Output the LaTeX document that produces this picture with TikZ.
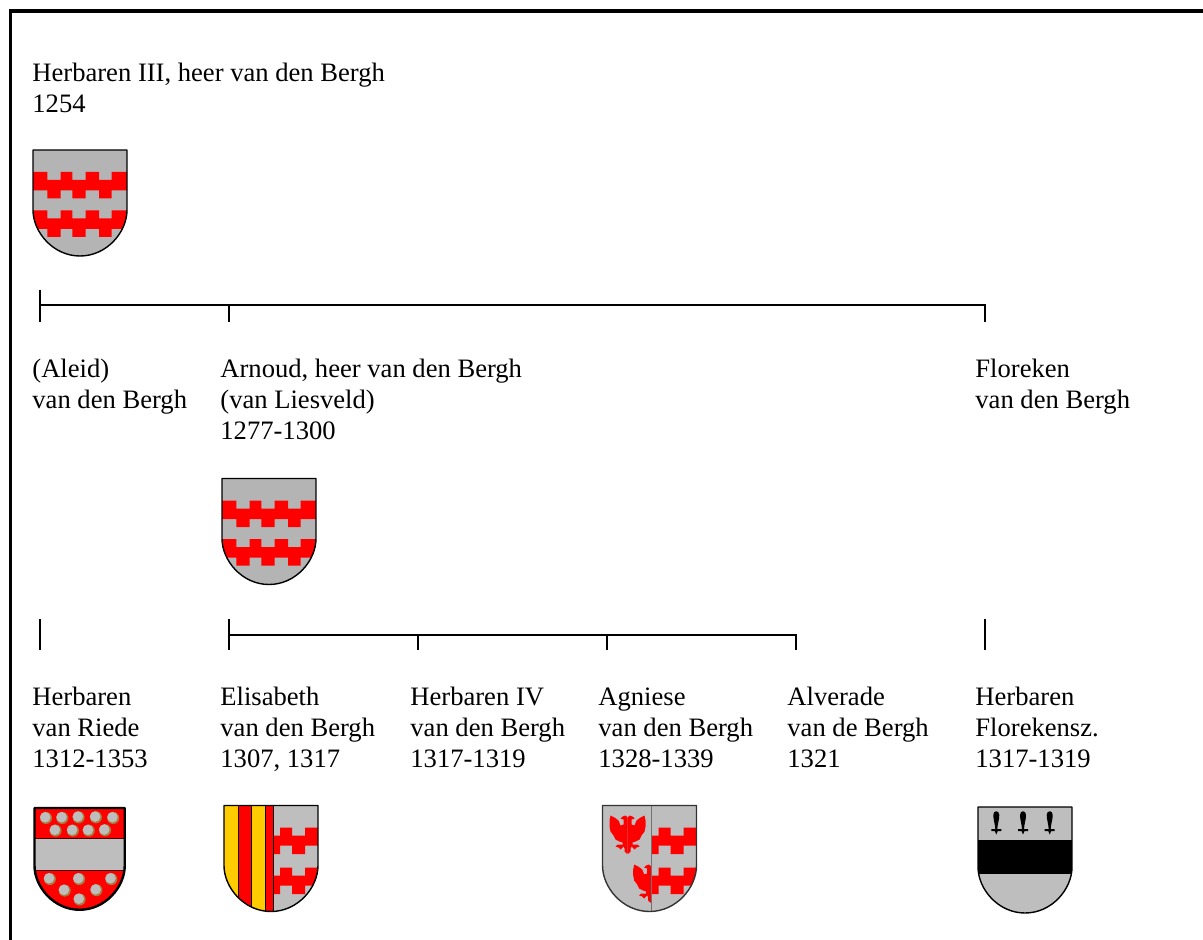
\documentclass[tikz,border=0pt]{standalone}
\usepackage{fontspec}
\setmainfont{Liberation Serif}
\definecolor{argent}{HTML}{BEBEBE}
\definecolor{bergsilver}{HTML}{B4B4B4}
\definecolor{gules}{HTML}{FF0000}
\definecolor{ore}{HTML}{FFCC00}
\definecolor{rust}{HTML}{A87B3E}
\newcommand{\shieldoutline}{(0,0) -- (94,0) -- (94,60) .. controls (94,82) and (74,106) .. (47,106) .. controls (20,106) and (0,82) .. (0,60) -- cycle}
\newcommand{\halfeagle}{(0,2) -- (2,0) -- (5,1) -- (7,3) -- (4,4) -- (4,9) -- (7,10) -- (9,5) -- (13,2) -- (17,0) -- (18,5) -- (18,11) -- (17,16) -- (14,20) -- (12,24) -- (8,26) -- (5,27) -- (5,29) -- (10,29) -- (12,31) -- (9,32) -- (7,34) -- (4,31) -- (3,33) -- (3,36) -- (1,38) -- (0,38) -- cycle}
\tikzset{
        person/.style={anchor=north west, align=left, inner sep=0pt, font=\fontsize{13.3}{15.5}\selectfont, execute at begin node=\strut},
        tree/.style={line width=1pt},
        edge/.style={line width=0.7pt, line join=round},
        bergshield/.pic={
                \begin{scope}
                        \clip \shieldoutline;
                        \fill[bergsilver] (0, 0) rectangle (94, 110);
                        \foreach \dy in {0, 38.5} {
                                \fill[gules] (0, 22+\dy) -| (14.3, 30+\dy) -| (27.7, 22+\dy) -| (39.3, 30+\dy) -| (52.7, 22+\dy) -| (66, 30+\dy) -| (78.7, 22+\dy) -- (94, 22+\dy)
                                        -- (94, 40.5+\dy) -| (78.7, 48.5+\dy) -| (66, 40.5+\dy) -| (52.7, 48.5+\dy) -| (39.3, 40.5+\dy) -| (27.7, 48.5+\dy) -| (14.3, 40.5+\dy) -- (0, 40.5+\dy) -- cycle;
                        }
                \end{scope}
                \draw[edge] \shieldoutline;
        },
        riedeshield/.pic={
                \begin{scope}
                        \clip \shieldoutline;
                        \fill[gules] (0, 0) rectangle (94, 110);
                        \fill[argent] (0, 32) rectangle (94, 65);
                        \draw[line width=0.4pt, black!70!red] (0, 32) -- (94, 32) (0, 65) -- (94, 65);
                \end{scope}
                \foreach \x/\y in {12/10.4, 29/10.4, 46/9.7, 64/9.7, 82/10.4, 22/23.6, 40/23.6, 56.5/23.6, 73.5/23.2, 16/74, 46.5/74, 80/74, 31.5/86, 64.5/85.6, 47/95.3} {
                        \fill[rust] (\x, \y) circle (6.3);
                        \fill[argent] (\x-0.8, \y-0.8) circle (5.5);
                }
                \draw[edge, line width=1.2pt] \shieldoutline;
        },
        elisabethshield/.pic={
                \begin{scope}
                        \clip \shieldoutline;
                        \fill[argent] (49, 0) rectangle (94, 110);
                        \fill[ore] (0, 0) rectangle (14.5, 110);
                        \fill[gules] (14.5, 0) rectangle (27.5, 110);
                        \fill[ore] (27.5, 0) rectangle (41, 110);
                        \fill[gules] (41, 0) rectangle (49, 110);
                        \foreach \dy in {0, 40} {
                                \fill[gules] (49, 30+\dy) -| (56, 22.2+\dy) -| (68, 30+\dy) -| (81, 22.2+\dy) -- (94, 22.2+\dy)
                                        -- (94, 40+\dy) -| (81, 48.5+\dy) -| (68, 40+\dy) -| (56, 48.5+\dy) -- (49, 48.5+\dy) -- cycle;
                        }
                        \foreach \x in {14.5, 27.5, 41, 49}
                                \draw[line width=0.3pt] (\x, 0) -- (\x, 110);
                \end{scope}
                \draw[edge] \shieldoutline;
        },
        agnieseshield/.pic={
                \begin{scope}
                        \clip \shieldoutline;
                        \fill[argent] (0, 0) rectangle (94, 110);
                        \begin{scope}[shift={(25, 10)}]
                                \fill[gules] \halfeagle;
                                \begin{scope}[xscale=-1]
                                        \fill[gules] \halfeagle;
                                \end{scope}
                        \end{scope}
                        \begin{scope}[shift={(48.7, 59)}, xscale=-1]
                                \fill[gules] \halfeagle;
                        \end{scope}
                        \foreach \dy in {0, 40} {
                                \fill[gules] (49, 30+\dy) -| (56, 22.2+\dy) -| (68, 30+\dy) -| (81, 22.2+\dy) -- (94, 22.2+\dy)
                                        -- (94, 40+\dy) -| (81, 48.5+\dy) -| (68, 40+\dy) -| (56, 48.5+\dy) -- (49, 48.5+\dy) -- cycle;
                        }
                        \draw[line width=0.4pt, black!55] (48.7, 0) -- (48.7, 106);
                \end{scope}
                \draw[edge, black!80] \shieldoutline;
        },
        florekenshield/.pic={
                \begin{scope}
                        \clip \shieldoutline;
                        \fill[argent] (0, 0) rectangle (94, 110);
                        \fill[black] (0, 32.7) rectangle (94, 66.7);
                \end{scope}
                \foreach \x in {18.3, 45, 71.7} {
                        \fill (\x-3, 8) .. controls (\x-3, 3) and (\x+3, 3) .. (\x+3, 8) .. controls (\x+3, 13) and (\x+1.2, 17) .. (\x+1, 22) -- (\x+5, 22) -- (\x+5, 24) -- (\x+1.5, 24) -- (\x, 27.5) -- (\x-1.5, 24) -- (\x-5, 24) -- (\x-5, 22) -- (\x-1, 22) .. controls (\x-1.2, 17) and (\x-3, 13) .. (\x-3, 8) -- cycle;
                }
                \draw[edge] \shieldoutline;
        },
}
\begin{document}
\begin{tikzpicture}[x=0.5pt, y=-0.5pt]
        \useasboundingbox (0, 0) rectangle (1203, 940);

        % frame, open on the right and at the bottom
        \coordinate (framebl) at (10.5, 940);
        \coordinate (frametl) at (10.5, 11);
        \coordinate (frametr) at (1203, 11);
        \draw[line width=1.8pt] (framebl) -- (frametl) -- (frametr);

        % persons
        \node[person] (herbarenIII) at (32, 62.3) {Herbaren III, heer van den Bergh\\1254};
        \node[person] (aleid) at (32, 358.3) {(Aleid)\\van den Bergh};
        \node[person] (arnoud) at (220, 358.3) {Arnoud, heer van den Bergh\\(van Liesveld)\\1277-1300};
        \node[person] (floreken) at (975, 358.3) {Floreken\\van den Bergh};
        \node[person] (riede) at (32, 686.3) {Herbaren\\van Riede\\1312-1353};
        \node[person] (elisabeth) at (220, 686.3) {Elisabeth\\van den Bergh\\1307, 1317};
        \node[person] (herbarenIV) at (410, 686.3) {Herbaren IV\\van den Bergh\\1317-1319};
        \node[person] (agniese) at (598, 687.3) {Agniese\\van den Bergh\\1328-1339};
        \node[person] (alverade) at (787, 686.3) {Alverade\\van de Bergh\\1321};
        \node[person] (florekensz) at (975, 686.3) {Herbaren\\Florekensz.\\1317-1319};

        % arms
        \pic at (33, 150) {bergshield};
        \pic at (222, 478.5) {bergshield};
        \pic[scale=0.96] at (34.5, 808) {riedeshield};
        \pic at (224, 805.5) {elisabethshield};
        \pic at (602.5, 805.5) {agnieseshield};
        \pic at (978, 807) {florekenshield};

        % first generation
        \coordinate (aleidup) at (40, 290);
        \coordinate (aleidbar) at (40, 305.5);
        \coordinate (aleiddown) at (40, 322);
        \coordinate (arnoudbar) at (229, 305.5);
        \coordinate (arnouddown) at (229, 322);
        \coordinate (florekenbar) at (985, 305.5);
        \coordinate (florekendown) at (985, 322);
        \draw[tree] (aleidup) -- (aleiddown);
        \draw[tree] (aleidbar) -- (florekenbar) -- (florekendown);
        \draw[tree] (arnoudbar) -- (arnouddown);

        % second generation
        \coordinate (riedeup) at (40, 619);
        \coordinate (riededown) at (40, 650);
        \coordinate (elisabethup) at (229, 619);
        \coordinate (elisabethbar) at (229, 634.5);
        \coordinate (elisabethdown) at (229, 650);
        \coordinate (herbarenbar) at (418, 634.5);
        \coordinate (herbarendown) at (418, 650);
        \coordinate (agniesebar) at (607, 634.5);
        \coordinate (agniesedown) at (607, 650);
        \coordinate (alveradebar) at (796, 634.5);
        \coordinate (alveradedown) at (796, 650);
        \coordinate (florekenszup) at (985, 619);
        \coordinate (florekenszdown) at (985, 650);
        \draw[tree] (riedeup) -- (riededown);
        \draw[tree] (elisabethup) -- (elisabethdown);
        \draw[tree] (elisabethbar) -- (alveradebar) -- (alveradedown);
        \draw[tree] (herbarenbar) -- (herbarendown);
        \draw[tree] (agniesebar) -- (agniesedown);
        \draw[tree] (florekenszup) -- (florekenszdown);
\end{tikzpicture}
\end{document}
